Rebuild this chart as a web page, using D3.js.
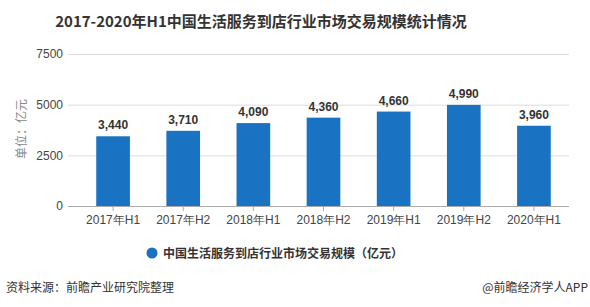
<!DOCTYPE html>
<html>
<head>
<meta charset="utf-8">
<script src="https://cdn.jsdelivr.net/npm/d3@7"></script>
<style>
  body { margin: 0; background: #fff; }
  svg { font-family: "Noto Sans CJK SC", "Noto Sans", sans-serif; }
</style>
</head>
<body>
<svg id="chart" width="590" height="307"></svg>
<script>
// categories and values
const periods = ["2017年H1", "2017年H2", "2018年H1", "2018年H2", "2019年H1", "2019年H2", "2020年H1"];
const scale = [3440, 3710, 4090, 4360, 4660, 4990, 3960];
const yTicks = [0, 2500, 5000, 7500];

const svg = d3.select("#chart");
const margin = { top: 54, left: 78, bottom: 101, right: 21 };
const width = 590, height = 307;

const x = d3.scaleBand()
  .domain(periods)
  .range([margin.left, width - margin.right])
  .paddingInner(0.52)
  .paddingOuter(0.26);

const y = d3.scaleLinear()
  .domain([0, 7500])
  .range([height - margin.bottom, margin.top]);

// title
svg.append("text")
  .attr("x", 261).attr("y", 27)
  .attr("text-anchor", "middle")
  .style("font-size", "15px").style("font-weight", "bold")
  .attr("fill", "#333")
  .text("2017-2020年H1中国生活服务到店行业市场交易规模统计情况");

// grid + y labels
const yAxis = d3.axisLeft(y).tickValues(yTicks).tickFormat(d3.format("d"))
  .tickSize(-(width - margin.right - 68)).tickPadding(5);
const gy = svg.append("g").attr("transform", "translate(68,0)").call(yAxis);
gy.select(".domain").remove();
gy.selectAll(".tick line").attr("stroke", "#ddd");
gy.selectAll(".tick text").attr("fill", "#444").style("font-size", "12px")
  .style("font-family", "Liberation Sans, Arial, sans-serif");

// y unit label
svg.append("text")
  .attr("transform", "translate(26,129) rotate(-90)")
  .attr("text-anchor", "middle")
  .attr("fill", "#888")
  .style("font-size", "12px")
  .text("单位：亿元");

// bars
svg.append("g").selectAll("rect")
  .data(scale)
  .join("rect")
  .attr("x", (d, i) => x(periods[i]))
  .attr("y", d => y(d))
  .attr("width", x.bandwidth())
  .attr("height", d => y(0) - y(d))
  .attr("fill", "#1a73c2");

// value labels
svg.append("g").selectAll("text")
  .data(scale)
  .join("text")
  .attr("x", (d, i) => x(periods[i]) + x.bandwidth() / 2)
  .attr("y", d => y(d) - 7)
  .attr("text-anchor", "middle")
  .attr("fill", "#333")
  .style("font-size", "12px").style("font-weight", "bold")
  .style("font-family", "Liberation Sans, Arial, sans-serif")
  .text(d => d3.format(",")(d));

// x axis
const gx = svg.append("g")
  .attr("transform", `translate(0,${y(0)})`)
  .call(d3.axisBottom(x).tickSize(5).tickSizeOuter(0).tickPadding(4));
gx.select(".domain").attr("d", `M68,0.5H${width - margin.right}`).attr("stroke", "#aaa");
gx.selectAll(".tick line").attr("stroke", "#aaa");
gx.selectAll(".tick text").attr("fill", "#444").style("font-size", "12px");

// legend
svg.append("circle").attr("cx", 152).attr("cy", 253).attr("r", 5.5).attr("fill", "#1a73c2");
svg.append("text")
  .attr("x", 163).attr("y", 257.5)
  .attr("fill", "#333")
  .style("font-size", "12px").style("font-weight", "bold")
  .text("中国生活服务到店行业市场交易规模（亿元）");

// footer
svg.append("text")
  .attr("x", 6).attr("y", 292)
  .attr("fill", "#333").style("font-size", "12px")
  .text("资料来源：前瞻产业研究院整理");
svg.append("text")
  .attr("x", 588).attr("y", 292)
  .attr("text-anchor", "end")
  .attr("fill", "#333").style("font-size", "12px")
  .text("@前瞻经济学人APP");
</script>
</body>
</html>
